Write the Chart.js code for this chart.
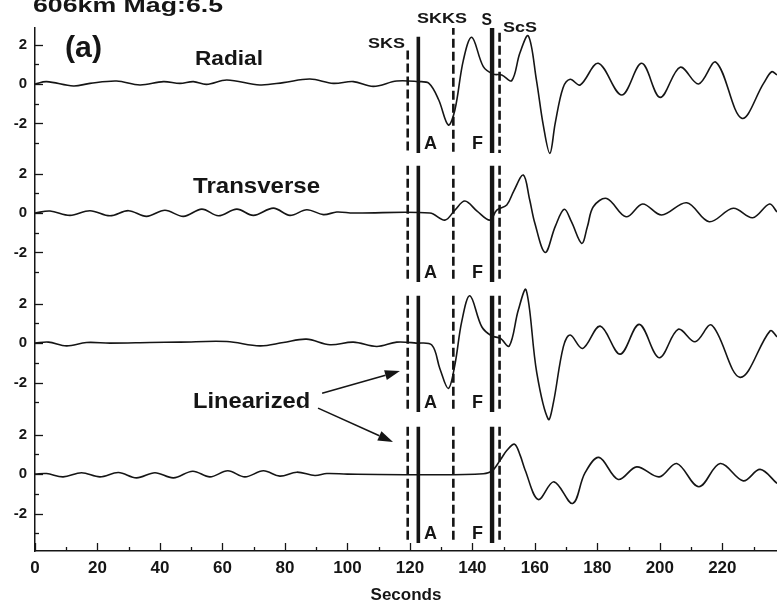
<!DOCTYPE html>
<html>
<head>
<meta charset="utf-8">
<script src="https://cdn.jsdelivr.net/npm/chart.js@4.4.1/dist/chart.umd.min.js"></script>
<style>
  html, body { margin: 0; padding: 0; background: #fff; }
</style>
</head>
<body>
<canvas id="seismo" width="777" height="606"></canvas>
<script>
// [seconds, amplitude]
const radial = [
  [0, 0], [3.7, 0.12], [12.3, -0.1], [17.6, 0.03], [26.1, 0.15], [33.6, -0.05], [41.1, 0.12],
  [46.4, 0.03], [50.7, 0.12], [54.9, -0.02], [61.4, 0.2], [72, -0.05], [79.5, 0.07], [88, 0.25],
  [95.5, 0.03], [101.9, 0.12], [108.3, -0.12], [115.8, 0.15], [122.6, 0.12], [126.1, 0.03],
  [129.2, -0.8], [132.3, -2.08], [134.4, -1.32], [137.1, 1.2], [139.8, 2.37], [143.5, 0.88],
  [146.7, 0.5], [149.4, 0.46], [152.6, 0.17], [155.2, 1.57], [157.9, 2.44], [160.5, 0.2],
  [162.7, -2.1], [164.8, -3.52], [166.5, -2.0], [169, -0.2], [171.3, 0.24], [174.5, -0.05],
  [180.3, 1.05], [187.8, -0.56], [194.2, 1.05], [200.1, -0.68], [206.5, 0.85], [212.4, 0],
  [218, 1.1], [226.2, -1.74], [233.2, 0.03], [235.8, 0.62], [237.5, 0.46]
];
const transverse = [
  [0, 0], [4.8, 0.1], [11.2, -0.12], [17.6, 0.12], [24, -0.14], [29.9, 0.12], [35.7, -0.17],
  [41.6, 0.14], [47.5, -0.17], [53.4, 0.2], [58.7, -0.14], [64.6, 0.2], [69.9, -0.12],
  [76.3, 0.25], [81.6, -0.12], [87, 0.17], [92.3, -0.08], [96.6, 0.05], [101.9, 0], [126.4, 0],
  [131.2, -0.36], [134.4, 0.15], [137.6, 0.61], [141.5, 0.1], [145.6, -0.36], [147.8, 0.15],
  [151, 0.41], [153.2, 1.1], [156.3, 1.93], [158.3, 0.7], [160, -0.52], [163.3, -2.0],
  [166.5, -0.69], [169.4, 0.19], [171.7, -0.44], [175, -1.54], [176.8, -0.7], [178.7, 0.32],
  [183, 0.74], [189.2, -0.19], [194.5, 0.46], [200.6, -0.1], [208.6, 0.52], [215.8, -0.44],
  [223.5, 0.24], [229.7, -0.24], [235.1, 0.46], [237.5, 0.05]
];
const linearized1 = [
  [0, 0], [4.3, 0.05], [10.1, -0.14], [16.5, 0.03], [24, 0], [36.8, 0.03], [46.4, 0.05],
  [61.4, 0.08], [72, -0.14], [79.5, 0.03], [86.9, 0.2], [94.4, -0.08], [101.9, 0.05],
  [109.4, -0.17], [115.8, 0.05], [122, 0], [127, -0.1], [129.6, -1.3], [132.3, -2.3],
  [134.4, -1.1], [136.6, 1.1], [139.2, 2.4], [143, 0.83], [146.2, 0.36], [148.9, 0.25],
  [151.8, -0.15], [154.7, 1.68], [157.2, 2.7], [160.6, -1.5], [164.3, -3.87], [165.9, -3.05],
  [169.1, -0.19], [171.3, 0.41], [175.3, -0.27], [180.9, 0.86], [187.3, -0.56], [193.4, 0.95],
  [199.8, -0.74], [205.9, 0.7], [211.3, 0.07], [216.6, 0.91], [225.7, -1.74], [235.3, 0.62],
  [237.5, 0.32]
];
const linearized2 = [
  [0, 0], [3.7, 0.03], [9, -0.14], [14.9, 0.07], [20.8, -0.14], [26.7, 0.08], [32.5, -0.19],
  [38.4, 0.07], [44.3, -0.19], [50.5, 0.15], [56, -0.14], [61.7, 0.17], [67.2, -0.14],
  [73.1, 0.17], [78.4, -0.1], [83.8, 0.1], [89.6, -0.07], [93.4, 0.03], [100, 0], [127.5, -0.03],
  [143.5, 0.02], [146.2, 0.15], [148.9, 0.71], [151, 1.2], [153.5, 1.52], [155.3, 0.95],
  [156.9, 0.2], [161.1, -1.29], [166.1, -0.39], [172.1, -1.49], [176, 0.05], [180.5, 0.85],
  [186.7, -0.27], [192.6, 0.37], [199.8, -0.14], [205.4, 0.54], [212.5, -0.64], [219.3, 0.54],
  [226.7, -0.34], [232.1, 0.24], [237.5, -0.47]
];
const traces = [radial, transverse, linearized1, linearized2];
const traceOffsets = [0, -6.55, -13.15, -19.8];

const xTicks = [0, 10, 20, 30, 40, 50, 60, 70, 80, 90, 100, 110, 120, 130, 140, 150, 160, 170, 180, 190, 200, 210, 220, 230];
const yTicks = [2, 1, 0, -1, -2, -3];

// phase arrival times (s)
const phaseNames = ['SKS', 'A', 'SKKS', 'S', 'ScS'];
const phaseTimes = [119.3, 122.7, 133.9, 146.3, 148.7];

const ink = '#151515';

// vertical marker look: dashed or solid, width, top of first segment
const markerStyle = {
  SKS:  { dash: [9, 4], width: 2.6, firstTop: 1.7 },
  A:    { dash: [],     width: 3.6, firstTop: 2.4 },
  SKKS: { dash: [9, 4], width: 2.6, firstTop: 2.95 },
  S:    { dash: [],     width: 4.4, firstTop: 2.95 },
  ScS:  { dash: [9, 4], width: 2.6, firstTop: 2.6 }
};

const markerSets = phaseNames.map((name, i) => {
  const st = markerStyle[name];
  const pts = [];
  traceOffsets.forEach((off, k) => {
    pts.push({ x: phaseTimes[i], y: off + (k === 0 ? st.firstTop : 2.4) });
    pts.push({ x: phaseTimes[i], y: off - 3.5 });
    pts.push({ x: phaseTimes[i], y: null });
  });
  return {
    label: name,
    data: pts,
    borderColor: ink,
    borderWidth: st.width,
    borderDash: st.dash,
    borderCapStyle: 'butt',
    pointRadius: 0,
    tension: 0,
    spanGaps: false
  };
});

const traceSets = traces.map((tr, k) => ({
  label: 'trace' + k,
  data: tr.map(([t, v]) => ({ x: t, y: v + traceOffsets[k] })),
  borderColor: ink,
  borderWidth: 1.6,
  pointRadius: 0,
  tension: 0.35
}));

function stretchText(ctx, text, px, py, size, width, align) {
  ctx.font = 'bold ' + size + 'px "Liberation Sans", Arial, sans-serif';
  const w = ctx.measureText(text).width;
  const sx = width / w;
  let left = px;
  if (align === 'center') left = px - width / 2;
  ctx.save();
  ctx.translate(left, py);
  ctx.scale(sx, 1);
  ctx.textAlign = 'left';
  ctx.textBaseline = 'alphabetic';
  ctx.fillText(text, 0, 0);
  ctx.restore();
}

function arrow(ctx, x0, y0, x1, y1) {
  const ang = Math.atan2(y1 - y0, x1 - x0);
  const len = 15, half = 5;
  const bx = x1 - len * Math.cos(ang), by = y1 - len * Math.sin(ang);
  ctx.beginPath();
  ctx.moveTo(x0, y0);
  ctx.lineTo(bx, by);
  ctx.stroke();
  ctx.beginPath();
  ctx.moveTo(x1, y1);
  ctx.lineTo(bx + half * Math.sin(ang), by - half * Math.cos(ang));
  ctx.lineTo(bx - half * Math.sin(ang), by + half * Math.cos(ang));
  ctx.closePath();
  ctx.fill();
}

const inkPlugin = {
  id: 'ink',
  afterDraw(chart) {
    const { ctx, scales: { x, y } } = chart;
    ctx.save();
    ctx.strokeStyle = ink;
    ctx.fillStyle = ink;
    ctx.lineWidth = 1.3;

    // inward tick marks
    y.ticks.forEach(tk => {
      const py = Math.round(y.getPixelForValue(tk.value)) + 0.5;
      const len = tk.label ? 8 : 4;
      ctx.beginPath(); ctx.moveTo(x.left, py); ctx.lineTo(x.left + len, py); ctx.stroke();
    });
    x.ticks.forEach(tk => {
      const px = Math.round(x.getPixelForValue(tk.value)) + 0.5;
      const len = tk.label ? 8 : 4;
      ctx.beginPath(); ctx.moveTo(px, y.bottom); ctx.lineTo(px, y.bottom - len); ctx.stroke();
    });

    const X = t => x.getPixelForValue(t);
    const Y = v => y.getPixelForValue(v);

    stretchText(ctx, '606km Mag:6.5', 33, 12, 21, 190, 'left');
    stretchText(ctx, '(a)', X(9.6), Y(1.37), 30, 37, 'left');
    stretchText(ctx, 'Radial', X(51.2), Y(0.96), 21, 68, 'left');
    stretchText(ctx, 'Transverse', X(50.6), Y(-5.53), 22, 127, 'left');
    stretchText(ctx, 'Linearized', X(50.6), Y(-16.45), 22, 117, 'left');

    stretchText(ctx, 'SKS', X(112.5), Y(1.83), 15, 37, 'center');
    stretchText(ctx, 'SKKS', X(130.3), Y(3.1), 15, 50, 'center');
    stretchText(ctx, 'S', X(144.6), Y(3.0), 16, 10.5, 'center');
    stretchText(ctx, 'ScS', X(155.2), Y(2.64), 15, 34, 'center');

    traceOffsets.forEach(off => {
      stretchText(ctx, 'A', X(124.5), Y(off - 3.3), 18, 13, 'left');
      stretchText(ctx, 'F', X(139.9), Y(off - 3.3), 18, 11, 'left');
    });

    ctx.lineWidth = 1.6;
    arrow(ctx, X(91.9), Y(-15.69), X(116.8), Y(-14.57));
    arrow(ctx, X(90.6), Y(-16.45), X(114.6), Y(-18.17));
    ctx.restore();
  }
};

const chart = new Chart(document.getElementById('seismo').getContext('2d'), {
  type: 'line',
  data: { datasets: traceSets.concat(markerSets) },
  options: {
    responsive: false,
    animation: false,
    devicePixelRatio: 1,
    layout: { padding: { top: 28, right: 0, left: 0, bottom: 0 } },
    plugins: { legend: { display: false }, tooltip: { enabled: false } },
    scales: {
      x: {
        type: 'linear',
        min: 0,
        max: 237.5,
        afterBuildTicks: scale => { scale.ticks = xTicks.map(v => ({ value: v })); },
        afterFit: scale => { scale.height = 55; },
        grid: { drawOnChartArea: false, drawTicks: false },
        border: { color: ink, width: 1.5 },
        ticks: {
          autoSkip: false,
          maxRotation: 0,
          padding: 7,
          color: ink,
          font: { family: '"Liberation Sans", Arial, sans-serif', size: 17, weight: 'bold' },
          callback: v => (v % 20 === 0 ? String(v) : '')
        },
        title: {
          display: true,
          text: 'Seconds',
          color: ink,
          padding: { top: 0, bottom: 0 },
          font: { family: '"Liberation Sans", Arial, sans-serif', size: 17, weight: 'bold' }
        }
      },
      y: {
        type: 'linear',
        min: -23.7,
        max: 2.84,
        afterBuildTicks: scale => {
          scale.ticks = [];
          traceOffsets.forEach(off => yTicks.forEach(v => scale.ticks.push({ value: off + v })));
        },
        afterFit: scale => { scale.width = 35; },
        grid: { drawOnChartArea: false, drawTicks: false },
        border: { color: ink, width: 1.5 },
        ticks: {
          autoSkip: false,
          padding: 8,
          color: ink,
          font: { family: '"Liberation Sans", Arial, sans-serif', size: 15, weight: 'bold' },
          callback: (v, i) => {
            const rel = yTicks[i % yTicks.length];
            return rel % 2 === 0 ? String(rel) : '';
          }
        }
      }
    }
  },
  plugins: [inkPlugin]
});
</script>
</body>
</html>
